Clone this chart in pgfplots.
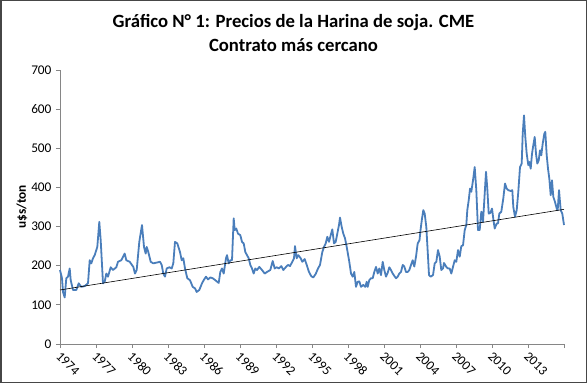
\documentclass[border=0pt]{standalone}
\usepackage{pgfplots}
\pgfplotsset{compat=1.18}
\usepackage{fontspec}
\setmainfont{Carlito}
\definecolor{serie}{RGB}{74,126,187}
\definecolor{axisgray}{RGB}{134,134,134}
\definecolor{framegray}{RGB}{70,70,70}
\begin{document}
\begin{tikzpicture}
\useasboundingbox (0,0) rectangle (587bp,383bp);
\fill[white] (0,0) rectangle (587bp,383bp);
\begin{axis}[
  at={(60bp,39bp)}, anchor=south west,
  scale only axis, width=504bp, height=274bp,
  xmin=0, xmax=504, ymin=0, ymax=700,
  axis lines*=left,
  axis line style={axisgray, line width=0.75bp},
  tick style={axisgray, line width=0.75bp},
  tick align=outside, major tick length=4bp,
  xtick={0,36,...,504},
  xticklabels={1974,1977,1980,1983,1986,1989,1992,1995,1998,2001,2004,2007,2010,2013,{}},
  ytick={0,100,...,700},
  tick label style={font=\fontsize{13.3bp}{16bp}\selectfont, black},
  xticklabel style={rotate=-45, anchor=north west, inner sep=1bp, xshift=2bp},
  yticklabel style={xshift=-1bp},
  /pgf/number format/assume math mode=true,
  ylabel={u\$s/ton},
  ylabel style={font=\bfseries\fontsize{13.3bp}{16bp}\selectfont, at={(axis description cs:-0.0754,0.5)}, anchor=center},
  clip=false,
]
\addplot[serie, line width=1.8bp, line join=round] coordinates {
(0,189) (2,168) (3,133) (4.7,119) (6.3,168) (8,172) (9.7,193) (10.7,163) (13,138) (16.3,138)
(18.7,155) (21.3,146) (24.7,148) (28,155) (29.7,214) (31.3,206) (33,219) (34.7,227) (37.3,248) (39.3,312)
(40.7,265) (43,155) (44.7,159) (46.3,180) (48,172) (50.7,196) (53,189) (56.3,196) (58,210) (61.3,214)
(64.7,231) (66.3,214) (69.7,210) (73.3,197) (75,180) (76.7,189) (79.3,261) (82,304) (84,248) (85.7,231)
(86.7,248) (88.3,235) (90.7,210) (93.3,206) (96.7,208) (100,210) (101.7,202) (103.3,180) (105,172) (106.7,193)
(109.3,196) (111.7,193) (113.3,206) (115,261) (117.3,257) (120,235) (121.7,214) (123.3,219) (125,193) (127.3,168)
(130,163) (132.7,146) (135,142) (136.7,133) (139.3,138) (142,155) (143.7,163) (146,172) (148,165) (150.3,170)
(152.7,168) (155.3,163) (158.7,156) (160.3,184) (162,193) (163.7,180) (166,219) (167,227) (168.7,206) (170.3,214)
(172,214) (173.7,321) (174.7,291) (176.3,295) (178,282) (180.3,278) (182,261) (183.7,257) (185.3,235) (187,227)
(188.7,219) (190.3,202) (192,193) (193.7,180) (195.3,193) (197,189) (199.3,197) (202,189) (204.7,180) (207,184)
(210.3,189) (212.7,212) (214.7,193) (216.7,196) (219,193) (221.3,199) (223.3,189) (225.7,196) (228,202) (230,199)
(232.3,210) (234,219) (235,250) (236.7,219) (238.3,227) (240.7,219) (242.3,210) (244.7,217) (246.7,202) (249,184)
(251.3,173) (253.3,170) (255.7,179) (258,193) (260,202) (262.3,235) (264,248) (265.7,257) (267.3,274) (269,261)
(270.7,278) (272.3,293) (274,257) (275.7,261) (277.3,282) (279,304) (280,323) (281.7,299) (283.3,282) (285,270)
(286.7,248) (289.3,210) (291,180) (292.7,172) (294.3,184) (296,146) (297.7,159) (299.3,160) (301,146) (303.3,151)
(305.3,146) (306.7,159) (307.7,146) (309.3,163) (311,168) (312.7,168) (314.3,184) (316,197) (317.7,180) (319.3,193)
(321,176) (322.7,210) (324.3,189) (326,172) (327.7,182) (329.3,196) (331,189) (332.7,180) (334.3,174) (336,168)
(337.7,172) (339.3,180) (341,184) (342.7,202) (344.3,198) (346,184) (347.7,184) (349.3,189) (351,202) (352.7,214)
(354.3,198) (356,223) (357.7,257) (359.5,265) (360.7,295) (362,320) (363.3,342) (364.7,333) (366.3,299) (368,223)
(369,176) (370.7,172) (373,176) (374.7,206) (376.3,210) (378,240) (379.7,223) (381.3,189) (383,193) (384,207)
(386.3,197) (388,193) (389.7,193) (391.3,180) (393,197) (394.7,214) (396.3,210) (398,240) (399.7,223) (401.3,250)
(403,252) (404.7,291) (406.3,304) (407.3,342) (408.7,367) (410,397) (411.3,389) (413,418) (414.7,452) (416.3,393)
(418,291) (419.7,291) (421.3,338) (423,312) (424.7,384) (426,440) (427.3,397) (428.7,333) (430.3,335) (432,346)
(433.5,316) (434.7,295) (436.7,308) (438,308) (439.3,333) (441.3,338) (443.3,372) (445,410) (446.7,397) (448.3,393)
(450.7,391) (452.3,393) (453.3,350) (455,325) (456.7,342) (458.3,389) (460,452) (461.7,461) (462.7,537) (464,584)
(465.3,529) (466.7,486) (468.3,457) (469.3,465) (470.7,448) (472,486) (473.3,508) (474.7,529) (476,486) (477.3,461)
(478.7,469) (480,495) (481.3,482) (482.7,512) (484.3,537) (485.3,542) (486.7,482) (488,448) (489.3,423) (490.7,380)
(492,418) (493.3,376) (495,363) (496.7,346) (497.7,342) (499,393) (500.7,342) (502.3,333) (504,304)
};
\addplot[black, line width=0.6bp] coordinates {(0,138) (504,344)};
\end{axis}
\node[font=\bfseries\fontsize{18.7bp}{24bp}\selectfont, align=center] at (293.5bp,350bp) {Gráfico N° 1: Precios de la Harina de soja. CME\\Contrato más cercano};
\draw[framegray, line width=1.5bp] (0.75bp,0.75bp) rectangle (586.25bp,382.25bp);
\end{tikzpicture}
\end{document}
